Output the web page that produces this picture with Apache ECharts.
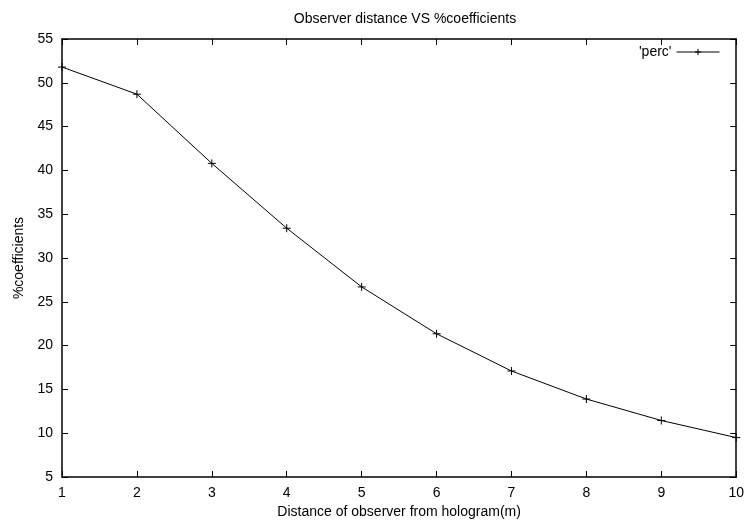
<!DOCTYPE html>
<html><head><meta charset="utf-8">
<script src="https://cdn.jsdelivr.net/npm/echarts@6/dist/echarts.min.js"></script>
<style>html,body{margin:0;padding:0;background:#fff}#c{width:747px;height:525px}</style>
</head><body><div id="c"></div>
<script>
const distances = [1, 2, 3, 4, 5, 6, 7, 8, 9, 10];
const percValues = [51.8, 48.7, 40.8, 33.4, 26.7, 21.35, 17.1, 13.9, 11.45, 9.5];
const seriesName = "'perc'";
const titleText = 'Observer distance VS %coefficients';
const xName = 'Distance of observer from hologram(m)';
const yName = '%coefficients';

const font = 'Liberation Sans, Arial, sans-serif';
const chart = echarts.init(document.getElementById('c'), null, {renderer: 'canvas'});
const plus = 'path://M0,5L10,5M5,0L5,10';
const axisCommon = {
  axisLine: {show: true, onZero: false, lineStyle: {color: '#000', width: 1.5}},
  splitLine: {show: false},
  axisTick: {show: true, inside: true, length: 6, lineStyle: {color: '#000', width: 1}},
};
const txt = {fontFamily: font, fontSize: 14, color: '#000'};
chart.setOption({
  animation: false,
  backgroundColor: '#fff',
  title: {text: titleText, left: 400, textAlign: 'center', top: 7,
    textStyle: Object.assign({fontWeight: 'normal'}, txt)},
  legend: {
    data: [{name: seriesName}],
    right: 27, top: 45, align: 'right', padding: 0,
    itemWidth: 43, itemHeight: 8, itemGap: 5,
    lineStyle: {width: 1, color: '#000'},
    itemStyle: {color: 'none', borderColor: '#000', borderWidth: 1},
    textStyle: txt
  },
  grid: {left: 62, right: 9, top: 39, bottom: 48, containLabel: false},
  xAxis: [
    Object.assign({type: 'value', min: 1, max: 10, interval: 1, position: 'bottom',
      name: xName, nameLocation: 'middle', nameGap: 28,
      nameTextStyle: txt,
      axisLabel: Object.assign({margin: 9}, txt)}, axisCommon),
    Object.assign({type: 'value', min: 1, max: 10, interval: 1, position: 'top',
      axisLabel: {show: false}}, axisCommon)
  ],
  yAxis: [
    Object.assign({type: 'value', min: 5, max: 55, interval: 5, position: 'left',
      name: yName, nameLocation: 'middle', nameGap: 29, nameRotate: 90,
      nameTextStyle: txt,
      axisLabel: Object.assign({margin: 9}, txt)}, axisCommon),
    Object.assign({type: 'value', min: 5, max: 55, interval: 5, position: 'right',
      axisLabel: {show: false}}, axisCommon)
  ],
  series: [{
    name: seriesName, type: 'line',
    data: distances.map((d, i) => [d, percValues[i]]),
    symbol: plus, symbolSize: 8, showSymbol: true,
    lineStyle: {color: '#000', width: 1},
    itemStyle: {color: 'none', borderColor: '#000', borderWidth: 1},
    clip: false
  }]
});
</script></body></html>
